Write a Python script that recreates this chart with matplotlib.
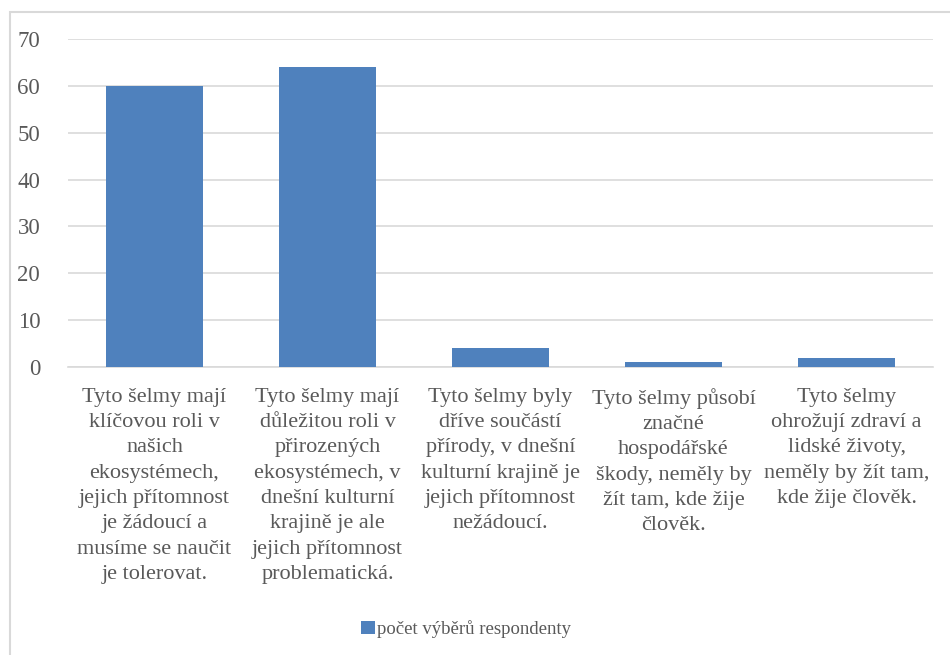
import matplotlib.pyplot as plt
from matplotlib.patches import Rectangle

categories = [
    "Tyto šelmy mají\nklíčovou roli v\nnašich\nekosystémech,\njejich přítomnost\nje žádoucí a\nmusíme se naučit\nje tolerovat.",
    "Tyto šelmy mají\ndůležitou roli v\npřirozených\nekosystémech, v\ndnešní kulturní\nkrajině je ale\njejich přítomnost\nproblematická.",
    "Tyto šelmy byly\ndříve součástí\npřírody, v dnešní\nkulturní krajině je\njejich přítomnost\nnežádoucí.",
    "Tyto šelmy působí\nznačné\nhospodářské\nškody, neměly by\nžít tam, kde žije\nčlověk.",
    "Tyto šelmy\nohrožují zdraví a\nlidské životy,\nneměly by žít tam,\nkde žije člověk.",
]
values = [60, 64, 4, 1, 2]
series_name = "počet výběrů respondenty"
yticks = [0, 10, 20, 30, 40, 50, 60, 70]

plt.rcParams['font.family'] = ['Liberation Serif', 'DejaVu Serif']
text_col = "#595959"

fig = plt.figure(figsize=(9.5, 6.55), dpi=100)
fig.patches.append(Rectangle((10 / 950, -0.1), 1.2, 1 - 12 / 655 + 0.1,
                             transform=fig.transFigure, fill=False,
                             edgecolor="#d9d9d9", linewidth=1.5))
ax = fig.add_axes([68 / 950, 1 - 367 / 655, 865 / 950, 328 / 655])

x = range(len(values))
ax.bar(x, values, width=0.56, color="#4f81bd", label=series_name, zorder=3)
ax.set_xlim(-0.5, len(values) - 0.5)
ax.set_ylim(0, 70)
ax.set_yticks(yticks)
ax.grid(axis="y", color="#d9d9d9", linewidth=1.2, zorder=0)
for s in ["top", "right", "left"]:
    ax.spines[s].set_visible(False)
ax.spines["bottom"].set_color("#d9d9d9")
ax.spines["bottom"].set_linewidth(1.2)
ax.tick_params(axis="y", length=0, pad=20, labelsize=16.5, labelcolor=text_col)
ax.tick_params(axis="x", length=0, pad=15)
ax.set_xticks(list(x))
ax.set_xticklabels(categories, fontsize=16, color=text_col, linespacing=1.45, va="top")

fig.legend(loc="center", bbox_to_anchor=(466 / 950, 1 - 629 / 655), frameon=False,
           fontsize=13.5, labelcolor=text_col, handlelength=0.75, handleheight=0.75,
           handletextpad=0.1)

fig.savefig("out.png", dpi=100)
